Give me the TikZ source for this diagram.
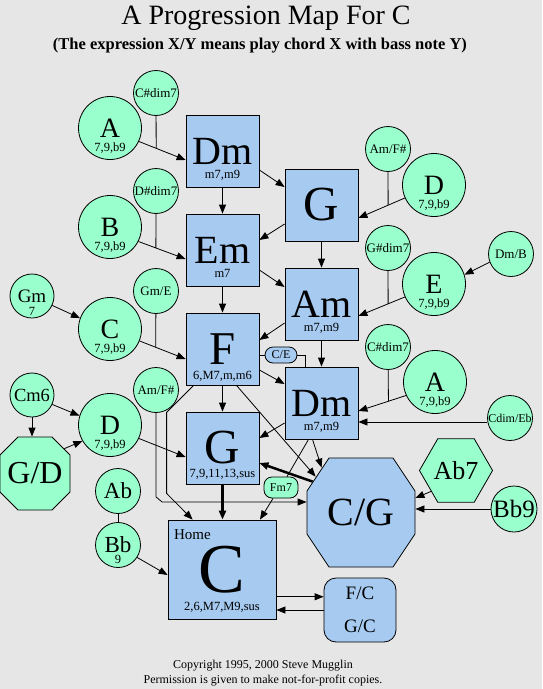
\documentclass[tikz,border=0pt]{standalone}
\usepackage{fontspec}
\setmainfont{Liberation Serif}
\usetikzlibrary{arrows.meta, shapes.geometric}

\definecolor{chordblue}{HTML}{A6CAF0}
\definecolor{passgreen}{HTML}{99FFCC}
\definecolor{paper}{HTML}{E6E6E6}

\newcommand{\sizept}[1]{\fontsize{#1}{#1}\selectfont}

\begin{document}
\begin{tikzpicture}[
        x = 1pt, y = -1pt, % one unit is one pixel, y going down
        > = {Triangle[length=9pt, width=7pt]}, % arrow head style
        line width = 0.8pt,
        node distance = 99pt % distance between chord boxes
    ]

    \tikzstyle{chord}=[
        draw = black,
        fill = chordblue,
        inner sep = 0pt,
        minimum width = 73pt,
        minimum height = 72pt,
        font = \sizept{40}
    ]
    \tikzstyle{pass}=[
        circle,
        draw = black,
        fill = passgreen,
        inner sep = 0pt,
        minimum size = 45pt,
        font = \sizept{13}
    ]
    \tikzstyle{bigpass}=[pass, minimum size = 63pt, font = \sizept{28}]
    \tikzstyle{ext}=[anchor = base, yshift = 8.5pt, inner sep = 0pt, font = \sizept{12.5}]
    \tikzstyle{pill}=[draw = black, rounded corners = 8pt, inner sep = 0pt, font = \sizept{12}]
    \tikzstyle{heavy}=[->, line width = 2.5pt]

    % background
    \fill[paper] (0,0) rectangle (542,689);
    \useasboundingbox (0,0) rectangle (542,689);

    % titles
    \node[anchor=base, font=\sizept{28}] (title) at (266,24) {A Progression Map For C};
    \node[anchor=base, font=\bfseries\sizept{16.5}] (subtitle) at (260,49) {(The expression X/Y means play chord X with bass note Y)};
    \node[anchor=base, font=\sizept{12}] (copy1) at (263,668) {Copyright 1995, 2000 Steve Mugglin};
    \node[anchor=base, font=\sizept{12}] (copy2) at (263,683) {Permission is given to make not-for-profit copies.};

    % the two octagons, drawn by hand
    \filldraw[fill=chordblue, shift={(361,512.5)}] (-32,-54.5) -- (32,-54.5) -- (54,-21.5) -- (54,21.5)
        -- (32,54.5) -- (-32,54.5) -- (-54,21.5) -- (-54,-21.5) -- cycle;
    \filldraw[fill=passgreen, shift={(35,473.5)}] (-17,-36.5) -- (17,-36.5) -- (35,-18.5) -- (35,18.5)
        -- (17,36.5) -- (-17,36.5) -- (-35,18.5) -- (-35,-18.5) -- cycle;

    % chord boxes
    \node[chord, label={[ext]south:m7,m9}] (Dm1) at (222.5,151) {Dm};
    \node[chord, label={[ext]south:m7}] (Em) [below of=Dm1] {Em};
    \node[chord, font=\sizept{47}, label={[ext, yshift=-3pt]south:6,M7,m,m6}] (F) [below of=Em] {F};
    \node[chord, font=\sizept{49}, label={[ext, yshift=-2pt]south:7,9,11,13,sus}] (G2) [below of=F] {G};
    \node[chord, font=\sizept{49}] (G1) at (321.5,205) {G};
    \node[chord, label={[ext]south:m7,m9}] (Am) [below of=G1] {Am};
    \node[chord, label={[ext]south:m7,m9}] (Dm2) [below of=Am] {Dm};
    \node[chord, minimum width=108pt, minimum height=99pt, font=\sizept{70},
          label={[ext]south:2,6,M7,M9,sus},
          label={[anchor=base west, inner sep=0pt, font=\sizept{15}, xshift=6pt, yshift=-20pt]north west:Home}]
          (C) at (222,569.5) {C};
    \node[inner sep=0pt, minimum width=108pt, minimum height=109pt, font=\sizept{40}] (CG) at (361,512.5) {C/G};
    \node[pill, fill=chordblue, rounded corners=12pt, minimum width=72pt, minimum height=64pt,
          font=\sizept{19}, align=center] (FC) at (360,610) {F/C\\[14pt]G/C};
    \node[pill, fill=chordblue, minimum width=32pt, minimum height=16pt] (CE) at (281,355) {C/E};
    \node[pill, fill=passgreen, minimum width=34pt, minimum height=21pt] (Fm7) at (281,487.5) {Fm7};

    % passing chords
    \node[bigpass, label={[ext]south:7,9,b9}] (A1) at (110,128) {A};
    \node[pass] (Cs1) at (156,93) {C\#dim7};
    \node[bigpass, label={[ext]south:7,9,b9}] (B) at (110,227) {B};
    \node[pass] (Ds) at (156,191) {D\#dim7};
    \node[pass] (AmFs1) at (388,149) {Am/F\#};
    \node[bigpass, label={[ext]south:7,9,b9}] (D1) at (434,185) {D};
    \node[pass] (Gs) at (388,248) {G\#dim7};
    \node[bigpass, label={[ext]south:7,9,b9}] (E) at (434,284) {E};
    \node[pass] (DmB) at (511,254) {Dm/B};
    \node[pass, minimum size=44pt, font=\sizept{19}, label={[ext, yshift=-5.5pt]south:7}] (Gm) at (32,296) {Gm};
    \node[bigpass, label={[ext]south:7,9,b9}] (Cc) at (110,329) {C};
    \node[pass] (GmE) at (156,291) {Gm/E};
    \node[pass, minimum size=44pt, font=\sizept{18.5}] (Cm6) at (32,395) {Cm6};
    \node[bigpass, label={[ext]south:7,9,b9}] (D2) at (110,425) {D};
    \node[pass] (AmFs2) at (156,390) {Am/F\#};
    \node[inner sep=0pt, minimum width=70pt, minimum height=73pt, font=\sizept{32}] (GD) at (35,473.5) {G/D};
    \node[pass, font=\sizept{23}] (Ab) at (118,491) {Ab};
    \node[pass, font=\sizept{23}, label={[ext, yshift=-4pt]south:9}] (Bb) at (118,545) {Bb};
    \node[pass] (Cs2) at (388,347) {C\#dim7};
    \node[bigpass, label={[ext]south:7,9,b9}] (A2) at (435,382) {A};
    \node[pass, font=\sizept{12}] (CdimEb) at (510,418) {Cdim/Eb};
    \node[pass, regular polygon, regular polygon sides=6, minimum size=71pt, font=\sizept{26}] (Ab7) at (456,470.5) {Ab7};
    \node[pass, minimum size=46pt, font=\sizept{25}] (Bb9) at (514,509) {Bb9};

    % connections
    \draw[->] (A1.-25) -- coordinate[pos=0.37] (jA1) ([yshift=-9pt]Dm1.west);
    \draw (Cs1) -- (jA1);
    \draw[->] (B.-27) -- coordinate[pos=0.37] (jB) ([yshift=-9pt]Em.west);
    \draw (Ds) -- (jB);
    \path[->] ([yshift=-19pt]Dm1.east) edge ([yshift=18pt]G1.west)
              (Dm1) edge (Em)
              ([yshift=-19pt]G1.west) edge ([yshift=10pt]Em.east);
    \draw[->] (D1.204) -- coordinate[pos=0.36] (jD1) ([yshift=-13pt]G1.east);
    \draw (AmFs1) -- (jD1);
    \path[->] (G1) edge (Am)
              ([yshift=-20pt]Em.east) edge ([yshift=17pt]Am.west);
    \draw[->] (E.204) -- coordinate[pos=0.36] (jE) ([yshift=-12pt]Am.east);
    \draw (Gs) -- (jE);
    \path[->] (DmB.201) edge (E.17)
              (Em) edge (F)
              ([yshift=-19pt]Am.west) edge ([yshift=9pt]F.east)
              (Gm.-25) edge (Cc.160);
    \draw[->] (Cc.-22) -- coordinate[pos=0.35] (jC) ([yshift=-10pt]F.west);
    \draw (GmE) -- (jC);
    \path[->] (Am) edge (Dm2)
              ([yshift=-21pt]F.east) edge ([yshift=19pt]Dm2.west);
    \draw (F.east |- CE.west) -- (CE.west);
    \draw (CE.east) -| ([xshift=-16pt]Dm2.north);
    \draw[->] (A2.205) -- coordinate[pos=0.37] (jA2) ([yshift=-8pt]Dm2.east);
    \draw (Cs2) -- (jA2);
    \draw[->] (CdimEb.190) -- (CdimEb.190 -| Dm2.east);
    \path[->] (F) edge (G2)
              ([yshift=-20pt]Dm2.west) edge ([yshift=10pt]G2.east)
              (Cm6.-25) edge (D2.163)
              (Cm6.south) edge (Cm6.south |- GD.north)
              ([xshift=-6pt, yshift=-12pt]GD.north east) edge (D2.210)
              (D2.-25) edge ([yshift=-9pt]G2.west);
    \draw[->] (AmFs2.south) -- ++(0,84) -- ++(6,5) -- ([yshift=10.5pt]CG.west);
    \draw[->] ([xshift=8pt]F.south west) -- ++(-27,27) -- ++(0,81) -- ([xshift=25pt]C.north west);
    \path[->] ([xshift=14pt]F.south) edge ([xshift=9pt, yshift=-19pt]CG.north west)
              ([xshift=-9pt]Dm2.south) edge ([xshift=15pt, yshift=-10pt]CG.north west);
    \draw ([xshift=-13pt]Dm2.south) -- ([xshift=6pt]Fm7.north);
    \draw[->] ([xshift=-8pt]Fm7.south) -- ([xshift=38pt]C.north);
    \draw[heavy] ([xshift=6pt, yshift=-24pt]CG.north west) -- ([yshift=-15pt]G2.east);
    \draw[heavy] (G2.south) -- (G2.south |- C.north);
    \draw (Ab) -- (Bb);
    \path[->] (Bb.-33) edge ([yshift=-5.5pt]C.west)
              (C.east |- FC.160) edge (FC.160)
              (FC.west) edge (FC.west -| C.east)
              (Ab7.220) edge ([yshift=14.5pt]CG.east)
              (Bb9.west) edge (Bb9.west -| CG.east);

\end{tikzpicture}
\end{document}
